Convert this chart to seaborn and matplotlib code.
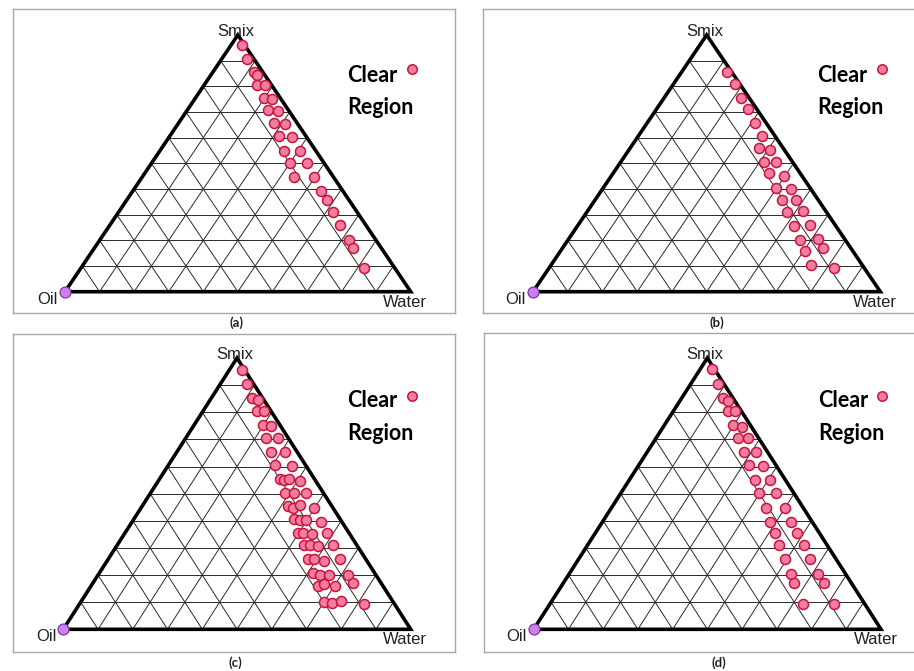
import numpy as np
import matplotlib
matplotlib.use('Agg')
import matplotlib.pyplot as plt
import seaborn as sns

# ── Data: compositions (%); oil = 100 - smix - water ──
A_SMIX  = [96.0, 90.6, 85.4, 84.5, 80.5, 80.5, 75.3, 74.9, 70.7, 70.5, 65.6, 65.4, 60.6, 60.4,
           54.9, 54.8, 50.3, 50.3, 44.8, 44.5, 39.3, 35.7, 31.2, 25.9, 20.2, 16.9, 9.3]
A_WATER = [3.1, 7.3, 11.9, 13.4, 15.4, 17.7, 19.8, 22.4, 23.3, 26.3, 27.7, 30.9, 31.6, 35.6,
           36.0, 40.6, 39.8, 44.8, 43.9, 49.8, 54.4, 57.8, 62.0, 66.6, 72.0, 75.0, 81.8]

B_SMIX  = [85.4, 81.0, 75.4, 71.2, 65.6, 60.8, 55.8, 55.3, 50.7, 50.6, 46.1, 45.1, 40.5,
           39.9, 35.7, 35.9, 31.1, 31.4, 25.5, 26.1, 20.3, 20.5, 17.0, 15.7, 10.5, 9.4]
B_WATER = [13.3, 17.6, 22.2, 26.3, 31.2, 35.5, 37.1, 40.5, 41.2, 44.7, 45.0, 49.6, 49.8,
           54.2, 53.9, 57.8, 57.5, 62.0, 62.5, 66.6, 66.7, 71.7, 75.0, 70.4, 74.8, 81.9]

C_SMIX  = [95.7, 90.5, 85.3, 84.7, 80.4, 80.4, 75.4, 74.8, 70.5, 70.4, 65.4, 65.2, 60.5, 60.2,
           55.3, 55.1, 55.3, 54.7, 50.4, 50.1, 50.1, 45.4, 44.8, 45.7, 44.8, 40.5, 40.2, 40.2,
           39.5, 35.6, 35.6, 35.2, 35.6, 30.9, 30.9, 30.6, 31.0, 25.9, 26.0, 25.1, 25.9, 20.7,
           20.1, 20.1, 20.1, 15.8, 16.7, 15.8, 17.0, 10.2, 9.6, 10.5, 9.4]
C_WATER = [3.5, 7.6, 11.8, 13.6, 15.5, 17.7, 19.7, 22.3, 23.1, 26.5, 27.0, 31.2, 30.7, 35.8,
           34.7, 36.1, 37.4, 40.8, 38.6, 41.4, 44.7, 42.1, 43.8, 45.3, 49.8, 46.3, 48.0, 49.7,
           54.4, 49.9, 51.3, 53.9, 58.0, 53.7, 55.6, 58.1, 62.0, 57.5, 59.3, 62.4, 66.7, 61.4,
           63.8, 66.5, 72.0, 65.5, 66.6, 70.3, 75.0, 69.9, 72.5, 74.6, 81.9]

D_SMIX  = [95.8, 90.5, 85.2, 84.3, 80.4, 80.4, 75.4, 74.7, 70.5, 70.5, 65.4, 65.2, 60.5, 60.2,
           55.1, 55.1, 50.4, 50.4, 44.8, 44.8, 39.6, 39.5, 35.6, 35.6, 31.2, 31.2, 26.0, 26.0,
           20.4, 20.4, 17.0, 17.0, 9.4, 9.4]
D_WATER = [3.4, 7.9, 11.8, 13.7, 15.8, 17.7, 19.7, 22.5, 23.6, 26.5, 27.8, 31.4, 31.7, 35.9,
           36.1, 40.6, 39.8, 44.7, 44.5, 49.9, 48.3, 54.4, 51.6, 58.0, 54.9, 62.1, 59.5, 66.7,
           64.0, 71.6, 66.5, 75.0, 72.8, 81.7]

OIL_SMIX, OIL_WATER = [0.0], [0.0]   # pure oil vertex point

VERTEX_LABELS = ['Oil', 'Water', 'Smix']
PANEL_TAGS    = ['(a)', '(b)', '(c)', '(d)']
LEGEND_TEXT   = ['Clear', 'Region']

# ── Style ──
PINK, PINK_EDGE = '#f37d9e', '#c8143c'
PURPLE, PURPLE_EDGE = '#cf7df0', '#7a3aa0'
FRAME = '#a8a8a8'

W, H = 914, 671
sns.set_theme(style='white')
plt.rcParams['font.family'] = ['Liberation Sans', 'DejaVu Sans']

fig = plt.figure(figsize=(W / 100, H / 100), dpi=100, facecolor='white')


def fx(x):
    return x / W


def fy(y):
    return 1 - y / H


def to_xy(smix, water):
    s = np.asarray(smix) / 100.0
    w = np.asarray(water) / 100.0
    return w + s / 2, s


# panel layout in pixels: frame (x0, y0, x1, y1), triangle (oil_x, water_x, base_y, apex_y),
# legend (text left, marker x, clear y, region y, marker y), tag (x, y)
layout = [
    dict(frame=(13, 9, 455, 313),   tri=(65, 410.7, 291.7, 35),   leg=(347, 412, 76, 107, 69),  tag=(236, 323)),
    dict(frame=(483, 9, 916, 313),  tri=(533, 880.3, 291.7, 35),  leg=(817, 882, 76, 107, 69),  tag=(717, 323)),
    dict(frame=(13, 334, 455, 652), tri=(63.3, 410.7, 629.3, 358), leg=(347, 412, 401, 433, 396), tag=(235, 663)),
    dict(frame=(484, 333, 916, 652), tri=(533.7, 881, 629.3, 358), leg=(818, 882, 401, 433, 396), tag=(719, 663)),
]
series = [(A_SMIX, A_WATER), (B_SMIX, B_WATER), (C_SMIX, C_WATER), (D_SMIX, D_WATER)]

for lay, (smix, water), tag in zip(layout, series, PANEL_TAGS):
    x0, y0, x1, y1 = lay['frame']
    ox, wx, by, ay = lay['tri']
    ax = fig.add_axes([fx(x0), fy(y1), (x1 - x0) / W, (y1 - y0) / H])
    sx, sy = wx - ox, by - ay
    ax.set_xlim((x0 - ox) / sx, (x1 - ox) / sx)
    ax.set_ylim((by - y1) / sy, (by - y0) / sy)
    ax.set_xticks([]); ax.set_yticks([])
    for sp in ax.spines.values():
        sp.set_color(FRAME); sp.set_linewidth(1.0); sp.set_visible(True)

    # ternary grid (10 divisions)
    for k in range(1, 10):
        f = k / 10
        ax.plot([f / 2, 1 - f / 2], [f, f], color='#2a2a2a', lw=0.7, zorder=1)
        ax.plot([f, f + (1 - f) / 2], [0, 1 - f], color='#2a2a2a', lw=0.7, zorder=1)
        ax.plot([1 - f, (1 - f) / 2], [0, 1 - f], color='#2a2a2a', lw=0.7, zorder=1)
    ax.plot([0, 1, 0.5, 0], [0, 0, 1, 0], color='black', lw=2.6, zorder=2,
            solid_joinstyle='miter')

    px, py = to_xy(smix, water)
    sns.scatterplot(x=px, y=py, ax=ax, color=PINK, edgecolor=PINK_EDGE, s=52,
                    linewidth=1.1, zorder=3, legend=False, clip_on=False)
    ox_, oy_ = to_xy(OIL_SMIX, OIL_WATER)
    sns.scatterplot(x=ox_, y=oy_, ax=ax, color=PURPLE, edgecolor=PURPLE_EDGE, s=62,
                    linewidth=0.9, zorder=4, legend=False, clip_on=False)

    lab = dict(fontsize=12, color='#222222')
    ax.annotate(VERTEX_LABELS[0], (0, 0), xytext=(-5, -5.5), textcoords='offset points',
                ha='right', va='center', **lab)
    ax.annotate(VERTEX_LABELS[1], (1, 0), xytext=(-4, -7.5), textcoords='offset points',
                ha='center', va='center', **lab)
    ax.annotate(VERTEX_LABELS[2], (0.5, 1), xytext=(-1.5, 2.5), textcoords='offset points',
                ha='center', va='center', zorder=5, **lab)

    # legend block
    tx, mx, cy, ry, my = lay['leg']
    fig.text(fx(tx), fy(cy), LEGEND_TEXT[0], fontsize=15.5, fontweight='bold',
             family='Lato', ha='left', va='center', color='black')
    fig.text(fx(tx), fy(ry), LEGEND_TEXT[1], fontsize=15.5, fontweight='bold',
             family='Lato', ha='left', va='center', color='black')
    fig.lines.append(plt.Line2D([fx(mx)], [fy(my)], marker='o', markersize=6.8,
                                markerfacecolor=PINK, markeredgecolor=PINK_EDGE,
                                markeredgewidth=1.1, transform=fig.transFigure))

    fig.text(fx(lay['tag'][0]), fy(lay['tag'][1]), tag, fontsize=9.5, fontweight='bold',
             family='Lato', ha='center', va='center', color='#222222')

fig.savefig('out.png', dpi=100, facecolor='white')
